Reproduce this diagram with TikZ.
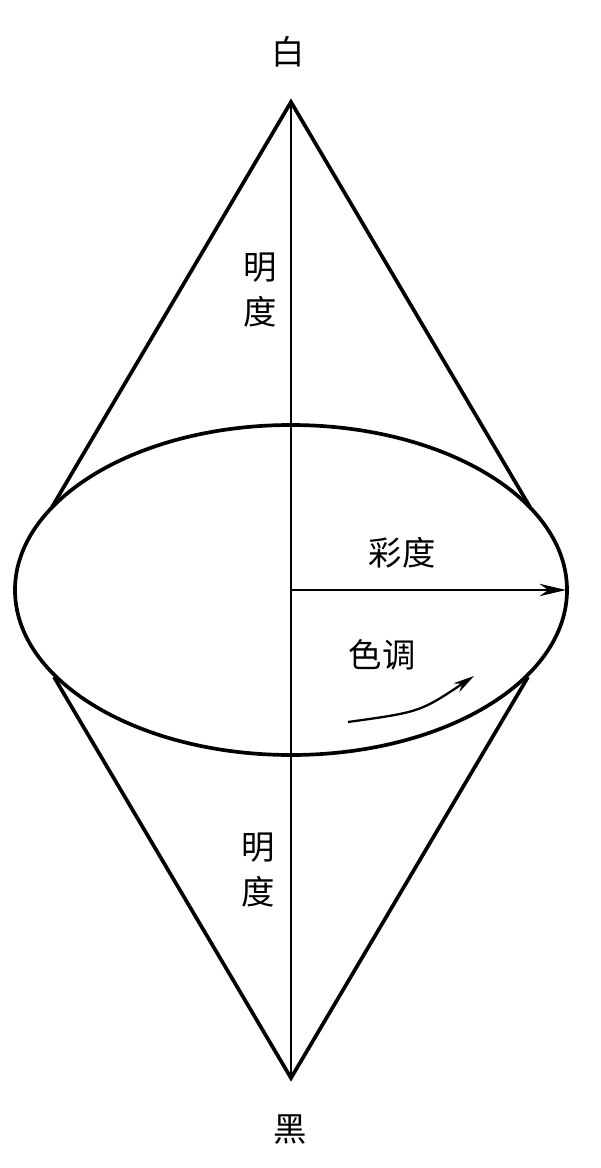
\documentclass[tikz,border=0pt]{standalone}
\usepackage{fontspec}
\newfontfamily\cjk{Noto Sans CJK SC}
\usetikzlibrary{positioning, arrows.meta, calc}

\begin{document}
\begin{tikzpicture}[
        x=0.02cm, y=-0.02cm,
        word/.style={font=\cjk\fontsize{19}{26}\selectfont, align=center, inner sep=0pt},
        rim/.style={line width=2.1pt},
        axis/.style={line width=1.7pt}
    ]
        \useasboundingbox (0,0) rectangle (600,1168);

        % apexes and the colour solid
        \coordinate (white) at (291,102);
        \coordinate (black) at (291,1078);
        \coordinate (centre) at (291,590);
        \coordinate (edge) at (566,590);
        \draw[rim] (centre) ellipse [x radius=276, y radius=165];

        % cone sides
        \coordinate (tl) at (52,507);
        \coordinate (tr) at (530,507);
        \coordinate (bl) at (54,677);
        \coordinate (br) at (528,677);
        \draw[rim] (tl) -- (white) -- (tr);
        \draw[rim] (bl) -- (black) -- (br);

        % lightness axis and chroma
        \draw[axis] (white) -- (black);
        \draw[axis, -{Stealth[length=15pt, width=7pt]}] (centre) -- (edge);

        % hue
        \coordinate (hs) at (348,722);
        \coordinate (he) at (474,676);
        \draw[line width=1.3pt, -{Stealth[length=12pt, width=6pt]}] (hs) .. controls (420,712) .. (he);

        \node[word] (top) at (288,52) {白};
        \node[word] (bottom) at (290,1130) {黑};
        \node[word] (lightup) at (260,290) {明\\度};
        \node[word] (lightdown) at (258,870) {明\\度};
        \node[word] (chroma) at (402,553) {彩度};
        \node[word] (hue) at (382,655) {色调};

    \end{tikzpicture}
\end{document}
